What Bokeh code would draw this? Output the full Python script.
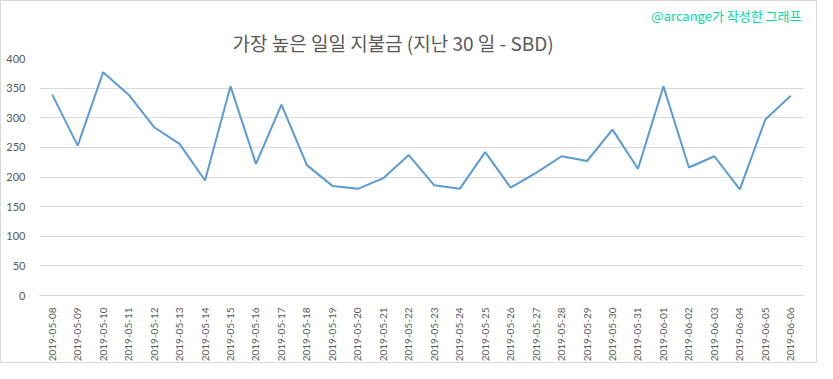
import math
from bokeh.plotting import figure
from bokeh.models import Title, FixedTicker, ColumnDataSource
from bokeh.embed import file_html
from bokeh.resources import INLINE

dates = ["2019-05-08", "2019-05-09", "2019-05-10", "2019-05-11", "2019-05-12", "2019-05-13",
         "2019-05-14", "2019-05-15", "2019-05-16", "2019-05-17", "2019-05-18", "2019-05-19",
         "2019-05-20", "2019-05-21", "2019-05-22", "2019-05-23", "2019-05-24", "2019-05-25",
         "2019-05-26", "2019-05-27", "2019-05-28", "2019-05-29", "2019-05-30", "2019-05-31",
         "2019-06-01", "2019-06-02", "2019-06-03", "2019-06-04", "2019-06-05", "2019-06-06"]
payout = [339, 253, 377, 339, 284, 256, 194, 353, 222, 322, 220, 185, 180, 198, 237,
          186, 180, 242, 182, 207, 235, 227, 280, 214, 353, 216, 235, 179, 297, 337]
y_ticks = [0, 50, 100, 150, 200, 250, 300, 350, 400]

title_text = "가장 높은 일일 지불금 (지난 30 일 - SBD)"
credit_text = "@arcange가 작성한 그래프"

src = ColumnDataSource(dict(x=dates, y=payout))

p = figure(width=817, height=363, x_range=dates, y_range=(0, 400),
           output_backend="svg", toolbar_location=None, title_location=None,
           min_border_left=38, min_border_right=15, min_border_top=57, min_border_bottom=68)

main_title = Title(text=title_text, align="left", offset=193, standoff=5,
                   text_font="Noto Sans CJK KR", text_font_size="19px",
                   text_font_style="normal", text_color="#595959")
credit = Title(text=credit_text, align="right", offset=2, standoff=0,
               text_font="Noto Sans CJK KR", text_font_size="13px",
               text_font_style="normal", text_color="#00d9a6")
p.add_layout(main_title, "above")
p.add_layout(credit, "above")

p.line("x", "y", source=src, line_color="#5b9bd5", line_width=2)

p.outline_line_color = None
p.background_fill_color = "white"
p.border_fill_color = "white"
p.styles = {"border": "1px solid #d9d9d9"}

p.xgrid.grid_line_color = None
p.ygrid.grid_line_color = "#d9d9d9"
p.ygrid.grid_line_width = 1

p.yaxis.ticker = FixedTicker(ticks=y_ticks)
p.yaxis.axis_line_color = None
p.yaxis.major_tick_line_color = None
p.yaxis.minor_tick_line_color = None
p.yaxis.major_label_text_font = "Lato"
p.yaxis.major_label_text_font_size = "11px"
p.yaxis.major_label_text_color = "#595959"
p.yaxis.major_label_standoff = 8

p.xaxis.axis_line_color = "#d9d9d9"
p.xaxis.major_tick_line_color = None
p.xaxis.major_label_orientation = math.pi / 2
p.xaxis.major_label_text_font = "Lato"
p.xaxis.major_label_text_font_size = "10px"
p.xaxis.major_label_text_color = "#595959"
p.xaxis.major_label_standoff = 6

open("out.html", "w").write(file_html(p, INLINE))
